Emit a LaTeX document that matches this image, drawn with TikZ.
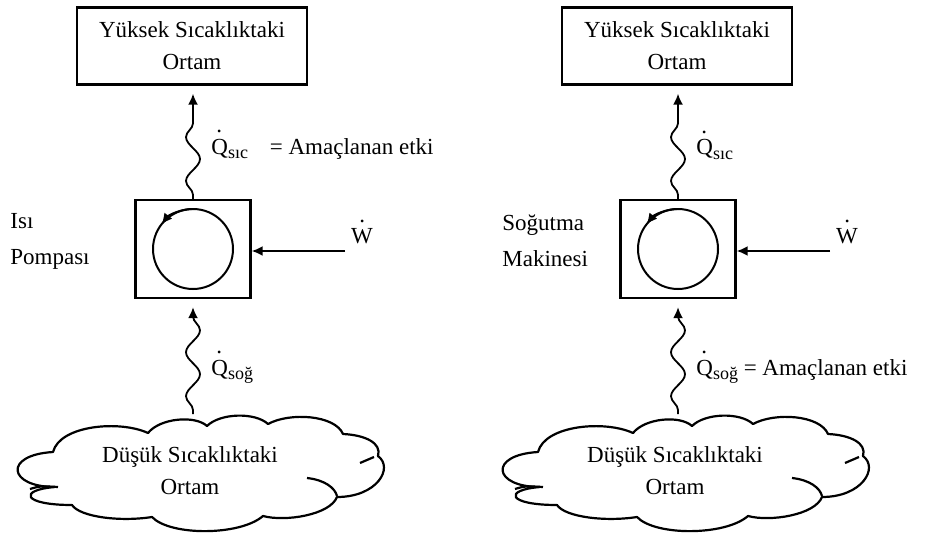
\documentclass[tikz,border=0pt]{standalone}
\usepackage{fontspec}
\setmainfont{Liberation Serif}
\usetikzlibrary{decorations.pathmorphing,arrows.meta}
\newcommand{\Qdot}{\makebox[0pt][l]{\hspace{0.22em}\raisebox{0.95em}{.}}Q}
\newcommand{\Wdot}{\makebox[0pt][l]{\hspace{0.36em}\raisebox{0.95em}{.}}W}
\newcommand{\subtxt}[1]{\raisebox{-0.4ex}{\fontsize{9}{10}\selectfont #1}}
\newcommand{\cloudoutline}{%
  (53,452) .. controls (60,425) and (120,420) .. (148,433)
  .. controls (160,418) and (195,415) .. (207,426)
  .. controls (220,413) and (255,412) .. (268,424)
  .. controls (290,412) and (335,415) .. (343,434)
  .. controls (365,435) and (382,443) .. (378,456)
  .. controls (394,468) and (377,497) .. (337,497)
  .. controls (330,515) and (285,522) .. (263,516)
  .. controls (240,536) and (170,536) .. (152,517)
  .. controls (120,522) and (80,517) .. (72,505)
  .. controls (22,505) and (18,490) .. (55,487)
  .. controls (8,487) and (3,455) .. (53,452) -- cycle}
\begin{document}
\begin{tikzpicture}[x=0.5pt,y=-0.5pt,
  font=\fontsize{11.5}{16}\selectfont,
  envbox/.style={draw, line width=1.2pt, minimum width=115pt, minimum height=38.5pt, align=center, inner sep=0pt},
  engbox/.style={draw, line width=1.2pt, minimum width=57.5pt, minimum height=49pt, inner sep=0pt},
  tip/.style={-{Latex[length=5.5pt,width=5pt]}},
  heat/.style={tip, line width=0.9pt, shorten >=4pt, decorate,
    decoration={snake, amplitude=3.5pt, segment length=22pt, pre length=2pt, post length=8pt}},
  cyc/.style={line width=1pt},
  work/.style={tip, line width=0.9pt},
  cloudline/.style={line width=1.1pt, line join=round},
  lbl/.style={inner sep=0pt}]
\useasboundingbox (0,0) rectangle (925,535);

% ---------- left: heat pump ----------
\node[envbox] (topL) at (192,46) {Yüksek Sıcaklıktaki\\Ortam};
\node[engbox] (engL) at (193,249) {};
\draw[cyc] (engL.center) circle[radius=40];
\draw[cyc,tip] (engL.center) ++(-92:40) arc[start angle=-92, end angle=-142, radius=40];
\coordinate (wL) at (345,251);
\draw[work] (wL) -- (engL.east |- wL);
\node[lbl] (wLlbl) at (362,232) {\Wdot};
\node[lbl, anchor=west, align=left] (nameL) at (10,241) {Isı\\[2pt]Pompası};
\draw[heat] (engL.north) -- (engL.north |- topL.south);
\node[lbl, anchor=west] (qsL) at (211,145) {\Qdot\subtxt{sıc}\hspace{0.7em} = Amaçlanan etki};
\draw[cloudline] \cloudoutline;
\draw[cloudline] (30,489) .. controls (40,486) .. (58,487);
\draw[cloudline] (360,463) -- (374,457);
\draw[cloudline] (307,478) .. controls (325,480) and (335,488) .. (337,496);
\node[align=center, inner sep=0pt] (cloudL) at (190,471) {Düşük Sıcaklıktaki\\Ortam};
\coordinate (cloudLtop) at (193,414);
\draw[heat] (cloudLtop) -- (engL.south);
\node[lbl, anchor=west] (qcL) at (211,367) {\Qdot\subtxt{soğ}};

% ---------- right: refrigerator ----------
\node[envbox] (topR) at (677,46) {Yüksek Sıcaklıktaki\\Ortam};
\node[engbox] (engR) at (678,249) {};
\draw[cyc] (engR.center) circle[radius=40];
\draw[cyc,tip] (engR.center) ++(-92:40) arc[start angle=-92, end angle=-142, radius=40];
\coordinate (wR) at (830,251);
\draw[work] (wR) -- (engR.east |- wR);
\node[lbl] (wRlbl) at (847,232) {\Wdot};
\node[lbl, anchor=west, align=left] (nameR) at (502,241) {Soğutma\\[2pt]Makinesi};
\draw[heat] (engR.north) -- (engR.north |- topR.south);
\node[lbl, anchor=west] (qsR) at (696,145) {\Qdot\subtxt{sıc}};
\begin{scope}[shift={(485,0)}]
\draw[cloudline] \cloudoutline;
\draw[cloudline] (30,489) .. controls (40,486) .. (58,487);
\draw[cloudline] (360,463) -- (374,457);
\draw[cloudline] (307,478) .. controls (325,480) and (335,488) .. (337,496);
\node[align=center, inner sep=0pt] (cloudR) at (190,471) {Düşük Sıcaklıktaki\\Ortam};
\coordinate (cloudRtop) at (193,414);
\end{scope}
\draw[heat] (cloudRtop) -- (engR.south);
\node[lbl, anchor=west] (qcR) at (696,367) {\Qdot\subtxt{soğ} = Amaçlanan etki};
\end{tikzpicture}
\end{document}
